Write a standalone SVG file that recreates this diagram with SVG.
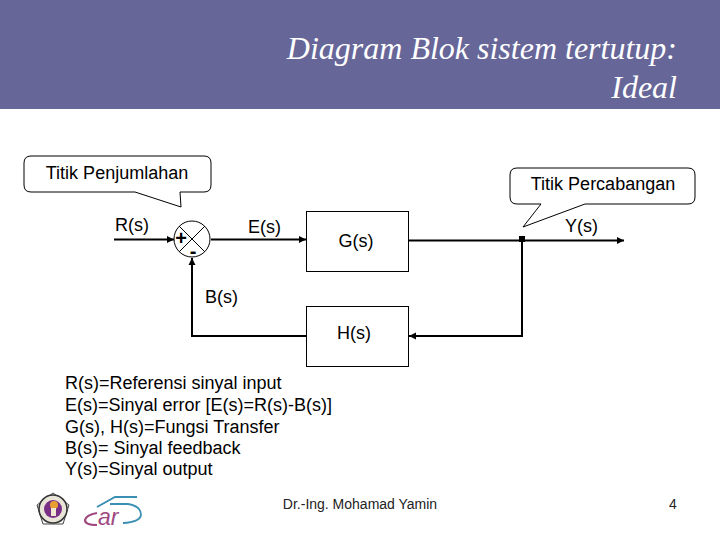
<svg xmlns="http://www.w3.org/2000/svg" width="720" height="540" viewBox="0 0 720 540">
<style>
text{font-family:"Liberation Sans",Arial,sans-serif;fill:#000}
.l{font-size:18px}
.t{font-family:"Liberation Serif","Times New Roman",serif;font-style:italic;font-size:32px;fill:#fff;text-anchor:end}
.b{fill:#fff;stroke:#000;stroke-width:1}
.c{fill:none;stroke:#000;stroke-width:2}
.m{text-anchor:middle}
.f{font-size:14px;fill:#222}
.s{font-size:20px;font-weight:bold;text-anchor:middle}
</style>
<defs><marker id="a" markerUnits="userSpaceOnUse" markerWidth="7" markerHeight="8" refX="7" refY="4" orient="auto"><path d="M0 0.500L7 4L0 7.500Z" fill="#000"/></marker></defs>
<rect width="720" height="109" fill="#666699"/>
<g id="title"><text class="t" x="677" y="59">Diagram Blok sistem tertutup:</text><text class="t" x="677" y="98">Ideal</text></g>
<g id="connectors">
<path class="c" d="M114 239.500H174" marker-end="url(#a)"/>
<path class="c" d="M211 239.500H306" marker-end="url(#a)"/>
<path class="c" d="M409 240.500H624" marker-end="url(#a)"/>
<path class="c" d="M522 240V336H409" marker-end="url(#a)"/>
<path class="c" d="M306 336H192V258" marker-end="url(#a)"/>
<rect x="519" y="236" width="6" height="6" fill="#000"/>
</g>
<g id="sum"><circle class="b" cx="192" cy="239" r="18"/><path d="M179 226L205 252M205 226L179 252" stroke="#000" fill="none"/><text x="181" y="245" class="s">+</text><text x="193" y="258" class="s">-</text></g>
<g id="G"><rect class="b" x="306.500" y="211.500" width="102" height="60"/><text class="l m" x="356" y="247">G(s)</text></g>
<g id="H"><rect class="b" x="306.500" y="306.500" width="102" height="60"/><text class="l m" x="354" y="339">H(s)</text></g>
<g id="callout1"><path class="b" d="M31 156H204Q211 156 211 163V185Q211 192 204 192H180L181 207L135 192H31Q24 192 24 185V163Q24 156 31 156Z"/><text class="l m" x="117" y="179">Titik Penjumlahan</text></g>
<g id="callout2"><path class="b" d="M517 168H688Q695 168 695 175V197Q695 204 688 204H585L523 227L541 204H517Q510 204 510 197V175Q510 168 517 168Z"/><text class="l m" x="603" y="190">Titik Percabangan</text></g>
<g id="labels"><text class="l" x="115" y="231">R(s)</text><text class="l" x="248" y="233">E(s)</text><text class="l" x="205" y="303">B(s)</text><text class="l" x="565" y="232">Y(s)</text></g>
<g id="legend"><text class="l" x="65" y="389">R(s)=Referensi sinyal input</text><text class="l" x="65" y="411">E(s)=Sinyal error [E(s)=R(s)-B(s)]</text><text class="l" x="65" y="433">G(s), H(s)=Fungsi Transfer</text><text class="l" x="65" y="454">B(s)= Sinyal feedback</text><text class="l" x="65" y="475">Y(s)=Sinyal output</text></g>
<g id="footer"><text x="360" y="509" class="f m">Dr.-Ing. Mohamad Yamin</text><text x="673" y="509" class="f m">4</text></g>
<g id="logo1"><path d="M53 493L69 505L63 524H43L37 505Z" fill="#fff" stroke="#444" stroke-width="1"/><circle cx="53" cy="509" r="14" fill="#e8e4d8" stroke="#333" stroke-width="1.500"/><circle cx="53" cy="509" r="9" fill="#7a2f86"/><circle cx="54" cy="505" r="4" fill="#e8a030"/><path d="M51 508H56V516H51Z" fill="#f0e8d0"/></g>
<g id="logo2"><path d="M97 507L115 497H137" fill="none" stroke="#3b8fb5" stroke-width="2"/><path d="M110 504H128Q141 506 141 515Q140 522 123 523" fill="none" stroke="#3b8fb5" stroke-width="1.800"/><path d="M97 513Q86 515 85 520Q85 525 97 525" fill="none" stroke="#a0487f" stroke-width="2.200"/><text x="98" y="525" font-size="23" font-style="italic" style="fill:#a0487f">ar</text></g>
</svg>
